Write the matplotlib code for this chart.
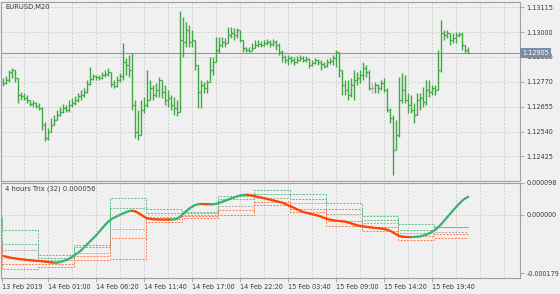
import numpy as np
import matplotlib.pyplot as plt
from matplotlib.collections import LineCollection
from matplotlib.transforms import blended_transform_factory

# ---- data ----
symbol_title = 'EURUSD,M20'
trix_title = '4 hours Trix (32) 0.000056'
current_price = 1.12905

first_open = 1.12768
close = [1.12764, 1.12777, 1.12815, 1.12824, 1.12787, 1.12708, 1.12703, 1.12694, 1.12685, 1.12666,
         1.12671, 1.12657, 1.12648, 1.12569, 1.12508, 1.12536, 1.12569, 1.12592, 1.12615, 1.12629,
         1.12648, 1.12638, 1.12662, 1.12671, 1.12685, 1.12703, 1.12708, 1.12722, 1.12759, 1.12782,
         1.12796, 1.12791, 1.12787, 1.12801, 1.12805, 1.12815, 1.12759, 1.12750, 1.12777, 1.12796,
         1.12861, 1.12847, 1.12824, 1.12662, 1.12536, 1.12522, 1.12638, 1.12662, 1.12685, 1.12740,
         1.12708, 1.12731, 1.12777, 1.12722, 1.12685, 1.12694, 1.12662, 1.12648, 1.12629, 1.12963,
         1.12954, 1.13009, 1.12954, 1.12963, 1.12847, 1.12722, 1.12754, 1.12740, 1.12768, 1.12824,
         1.12861, 1.12917, 1.12940, 1.12954, 1.12949, 1.12986, 1.12995, 1.12986, 1.13009, 1.12963,
         1.12926, 1.12917, 1.12912, 1.12926, 1.12940, 1.12944, 1.12940, 1.12949, 1.12954, 1.12944,
         1.12954, 1.12940, 1.12907, 1.12884, 1.12870, 1.12879, 1.12870, 1.12861, 1.12870, 1.12879,
         1.12870, 1.12875, 1.12847, 1.12856, 1.12870, 1.12861, 1.12852, 1.12842, 1.12861, 1.12866,
         1.12879, 1.12907, 1.12824, 1.12754, 1.12731, 1.12708, 1.12754, 1.12777, 1.12787, 1.12801,
         1.12833, 1.12815, 1.12740, 1.12740, 1.12754, 1.12740, 1.12764, 1.12731, 1.12638, 1.12601,
         1.12453, 1.12522, 1.12685, 1.12731, 1.12685, 1.12662, 1.12638, 1.12615, 1.12685, 1.12694,
         1.12675, 1.12731, 1.12722, 1.12740, 1.12731, 1.12824, 1.12995, 1.12986, 1.12995, 1.12963,
         1.12972, 1.12986, 1.12991, 1.12940, 1.12917, 1.12905]
high = [1.12787, 1.12796, 1.12824, 1.12833, 1.12824, 1.12787, 1.12722, 1.12717, 1.12708, 1.12685,
        1.12685, 1.12675, 1.12671, 1.12652, 1.12583, 1.12555, 1.12601, 1.12615, 1.12638, 1.12652,
        1.12666, 1.12662, 1.12685, 1.12694, 1.12703, 1.12717, 1.12731, 1.12740, 1.12777, 1.12838,
        1.12805, 1.12801, 1.12801, 1.12815, 1.12824, 1.12833, 1.12815, 1.12777, 1.12796, 1.12810,
        1.12949, 1.12879, 1.12893, 1.12903, 1.12685, 1.12638, 1.12685, 1.12699, 1.12824, 1.12777,
        1.12754, 1.12764, 1.12791, 1.12777, 1.12754, 1.12731, 1.12708, 1.12699, 1.12685, 1.13097,
        1.13070, 1.13046, 1.13032, 1.13009, 1.12949, 1.12847, 1.12777, 1.12768, 1.12777, 1.12884,
        1.12884, 1.12977, 1.12977, 1.12977, 1.12972, 1.13023, 1.13023, 1.13019, 1.13019, 1.13009,
        1.12954, 1.12930, 1.12930, 1.12949, 1.12963, 1.12963, 1.12958, 1.12963, 1.12968, 1.12963,
        1.12968, 1.12963, 1.12949, 1.12917, 1.12893, 1.12893, 1.12889, 1.12884, 1.12889, 1.12893,
        1.12889, 1.12889, 1.12879, 1.12870, 1.12879, 1.12875, 1.12870, 1.12861, 1.12875, 1.12879,
        1.12893, 1.12917, 1.12907, 1.12810, 1.12777, 1.12777, 1.12787, 1.12824, 1.12815, 1.12824,
        1.12861, 1.12847, 1.12824, 1.12764, 1.12768, 1.12759, 1.12777, 1.12787, 1.12740, 1.12648,
        1.12615, 1.12592, 1.12791, 1.12810, 1.12801, 1.12717, 1.12708, 1.12671, 1.12717, 1.12717,
        1.12745, 1.12777, 1.12777, 1.12754, 1.12754, 1.12917, 1.13056, 1.13009, 1.13009, 1.12995,
        1.12995, 1.13000, 1.13000, 1.13000, 1.12940, 1.12930]
low = [1.12750, 1.12759, 1.12768, 1.12787, 1.12768, 1.12671, 1.12685, 1.12685, 1.12671, 1.12657,
       1.12652, 1.12648, 1.12638, 1.12546, 1.12495, 1.12499, 1.12546, 1.12569, 1.12592, 1.12610,
       1.12624, 1.12629, 1.12629, 1.12652, 1.12662, 1.12675, 1.12685, 1.12699, 1.12717, 1.12754,
       1.12777, 1.12777, 1.12777, 1.12782, 1.12791, 1.12796, 1.12745, 1.12740, 1.12745, 1.12768,
       1.12777, 1.12801, 1.12791, 1.12638, 1.12508, 1.12499, 1.12569, 1.12624, 1.12652, 1.12685,
       1.12685, 1.12699, 1.12699, 1.12694, 1.12662, 1.12652, 1.12638, 1.12615, 1.12610, 1.12629,
       1.12884, 1.12930, 1.12930, 1.12930, 1.12824, 1.12648, 1.12648, 1.12717, 1.12717, 1.12768,
       1.12801, 1.12870, 1.12903, 1.12930, 1.12930, 1.12963, 1.12972, 1.12963, 1.12972, 1.12954,
       1.12907, 1.12907, 1.12907, 1.12912, 1.12926, 1.12930, 1.12930, 1.12935, 1.12940, 1.12930,
       1.12935, 1.12917, 1.12893, 1.12861, 1.12856, 1.12847, 1.12856, 1.12847, 1.12856, 1.12866,
       1.12861, 1.12861, 1.12833, 1.12842, 1.12852, 1.12847, 1.12824, 1.12833, 1.12838, 1.12852,
       1.12847, 1.12838, 1.12791, 1.12708, 1.12708, 1.12685, 1.12699, 1.12685, 1.12754, 1.12764,
       1.12777, 1.12791, 1.12731, 1.12717, 1.12717, 1.12717, 1.12731, 1.12722, 1.12629, 1.12578,
       1.12337, 1.12453, 1.12513, 1.12671, 1.12671, 1.12624, 1.12624, 1.12578, 1.12615, 1.12638,
       1.12652, 1.12662, 1.12699, 1.12708, 1.12708, 1.12731, 1.12815, 1.12963, 1.12972, 1.12940,
       1.12949, 1.12949, 1.12977, 1.12917, 1.12903, 1.12903]

# Trix(32) on the 4 hour chart, in millionths
trix_micro = [-125.6, -128.0, -130.2, -131.7, -133.2, -134.8, -135.7, -136.9, -137.8, -138.7,
              -139.7, -140.3, -140.9, -141.8, -143.0, -143.9, -145.2, -146.1, -145.8, -143.9,
              -140.9, -137.8, -133.2, -127.1, -121.0, -114.8, -107.2, -98.0, -88.8, -79.6,
              -70.4, -61.3, -50.5, -39.8, -29.1, -19.9, -12.3, -7.7, -3.1, 1.5,
              5.2, 9.2, 12.3, 12.9, 10.7, 6.1, 0.0, -6.1, -10.1, -12.3,
              -13.2, -13.5, -13.8, -13.85, -13.9, -14.0, -14.1, -13.2, -10.7, -4.6,
              4.6, 12.3, 19.9, 26.0, 30.6, 33.1, 33.7, 33.4, 33.1, 32.8,
              33.1, 34.3, 37.4, 40.7, 43.8, 47.5, 51.1, 54.2, 57.3, 59.7,
              61.3, 61.9, 60.9, 59.7, 57.3, 55.1, 53.0, 51.1, 49.0, 46.6,
              44.4, 42.3, 39.8, 37.4, 33.7, 29.1, 25.4, 21.4, 16.8, 12.3,
              9.2, 6.7, 4.6, 2.1, 0.0, -2.5, -5.5, -9.2, -12.3, -14.4,
              -16.2, -17.8, -18.4, -19.3, -20.2, -23.0, -26.0, -29.1, -31.5, -33.7,
              -35.2, -36.1, -37.4, -38.6, -39.8, -40.7, -41.3, -42.9, -45.3, -49.0,
              -54.5, -59.7, -64.3, -66.5, -67.1, -67.4, -67.5, -67.1, -66.5, -65.2,
              -63.1, -59.7, -55.7, -50.8, -45.3, -36.8, -27.6, -16.8, -6.1, 4.6,
              15.3, 25.4, 35.2, 44.4, 51.1, 56.0]

# 4 hour levels, one value per 4h block (first one is the block before the chart)
green_hi = [-6.1, -45.9, -124.0, -91.9, 51.1, 17.5, 9.2, 56.7, 76.6, 65.8, 35.2, -4.6, -29.1, -36.1]
green_lo = [-9.2, -89.7, -131.7, -99.5, 20.5, 6.1, 4.6, 49.0, 65.8, 49.0, 18.4, -15.3, -45.9, -38.3]
gray_mid = [-76.6, -108.7, -139.3, -116.4, -43.8, -6.1, 0.0, 26.0, 52.1, 35.2, 1.5, -26.0, -55.1, -53.6]
orange_hi = [-91.9, -151.6, -150.1, -125.6, -72.0, -13.8, -4.6, 15.3, 39.8, 18.4, -18.4, -36.8, -65.2, -58.2]
orange_lo = [-101.0, -166.9, -159.3, -137.8, -136.3, -21.4, -10.7, -1.5, 29.1, 7.7, -33.7, -49.0, -75.3, -71.4]

price_ticks = [1.13115, 1.13000, 1.12885, 1.12770, 1.12655, 1.12540, 1.12425]
trix_ticks = [0.000098, 0.0, -0.000179]
time_labels = ['13 Feb 2019', '14 Feb 01:00', '14 Feb 06:20', '14 Feb 11:40', '14 Feb 17:00',
               '14 Feb 22:20', '15 Feb 03:40', '15 Feb 09:00', '15 Feb 14:20', '15 Feb 19:40']

# ---- style ----
BG = '#f0f0f0'
FRAME = '#a0a0a0'
GRID = '#c8c8c8'
TXT = '#3a3a3a'
BAR = '#3fa843'
UP = '#3cb371'
DOWN = '#ff4500'
FS = 4.7

plt.rcParams['font.family'] = ['DejaVu Sans']

W, H = 560, 294
fig = plt.figure(figsize=(W / 100, H / 100), dpi=100, facecolor=BG)


def px_axes(x0, y0, x1, y1):
    return fig.add_axes([x0 / W, 1 - y1 / H, (x1 - x0) / W, (y1 - y0) / H], facecolor=BG)


ax = px_axes(1, 2, 520, 180.5)
ax2 = px_axes(1, 182.5, 520, 278)

n = len(close)
x = np.arange(n)
c = np.array(close)
o = np.r_[first_open, c[:-1]]
h = np.maximum(np.array(high), np.maximum(o, c))
l = np.minimum(np.array(low), np.minimum(o, c))
xmin, xmax = -0.83, 172.2

for a in (ax, ax2):
    a.set_xlim(xmin, xmax)
    for s in a.spines.values():
        s.set_color(FRAME)
        s.set_linewidth(0.8)
    a.set_axisbelow(True)
    for gx in np.arange(7, xmax, 8):
        a.axvline(gx, color=GRID, lw=0.6, ls=(0, (2, 2)), zorder=0)

# ---- price panel ----
ax.set_ylim(1.123137, 1.131391)
for p in price_ticks:
    ax.axhline(p, color=GRID, lw=0.6, ls=(0, (2, 2)), zorder=0)
ax.axhline(current_price, color='#8a98ac', lw=0.8, zorder=1)

cols = [BAR if oo != cc else '#b4b4b4' for oo, cc in zip(o, c)]
ax.vlines(x, l, h, colors=cols, lw=1.0, zorder=2)
ax.hlines(o, x - 0.5, x, colors=cols, lw=0.9, zorder=2)
ax.hlines(c, x, x + 0.5, colors=cols, lw=0.9, zorder=2)

ax.yaxis.tick_right()
ax.set_yticks(price_ticks)
ax.set_yticklabels([f'{p:.5f}' for p in price_ticks])
ax.set_xticks([])
ax.tick_params(axis='y', direction='out', length=3, width=0.6, color=FRAME,
               labelsize=FS, labelcolor=TXT, pad=1.5)
trans = blended_transform_factory(ax.transAxes, ax.transData)
ax.text(1.004, current_price, f'{current_price:.5f}', transform=trans, ha='left', va='center',
        fontsize=FS, color='white', zorder=10, clip_on=False,
        bbox=dict(boxstyle='square,pad=0.3', fc='#7d8da3', ec='none'))
ax.annotate(symbol_title, xy=(0, 1), xycoords='axes fraction', xytext=(4, -2),
            textcoords='offset pixels', ha='left', va='top', fontsize=4.9, color=TXT)

# ---- trix panel ----
tv = np.array(trix_micro) * 1e-6
ax2.set_ylim(-193e-6, 99.5e-6)
ax2.axhline(0, color=GRID, lw=0.6, ls=(0, (2, 2)), zorder=0)

edges = np.r_[xmin, np.arange(-0.5, n - 12, 12), n - 1]
level_styles = [(green_hi, '#5dbd86'), (green_lo, '#5dbd86'), (gray_mid, '#a8a8a8'),
                (orange_hi, '#ff7a4d'), (orange_lo, '#ff7a4d')]
for vals, col in level_styles:
    ax2.stairs(np.array(vals) * 1e-6, edges, baseline=None, color=col, lw=0.7,
               ls=(0, (2, 1.4)), zorder=2)

pts = np.column_stack([x, tv])
segs = np.stack([pts[:-1], pts[1:]], axis=1)
seg_cols = [UP if b >= a else DOWN for a, b in zip(tv[:-1], tv[1:])]
ax2.add_collection(LineCollection(segs, colors=seg_cols, linewidths=1.6,
                                  capstyle='round', zorder=3))

ax2.yaxis.tick_right()
ax2.set_yticks(trix_ticks)
ax2.set_yticklabels([f'{v:.6f}' for v in trix_ticks])
tick_pos = np.r_[-0.5, np.arange(15, n, 16)][:len(time_labels)]
ax2.set_xticks(tick_pos)
ax2.set_xticklabels(time_labels)
for t in ax2.get_xticklabels():
    t.set_horizontalalignment('left')
ax2.tick_params(direction='out', length=3, width=0.6, color=FRAME,
                labelsize=FS, labelcolor=TXT, pad=1.5)
ax2.tick_params(axis='x', pad=1)
ax2.annotate(trix_title, xy=(0, 1), xycoords='axes fraction', xytext=(4, -3),
             textcoords='offset pixels', ha='left', va='top', fontsize=4.9, color=TXT)

fig.savefig('out.png', dpi=100, facecolor=BG)
